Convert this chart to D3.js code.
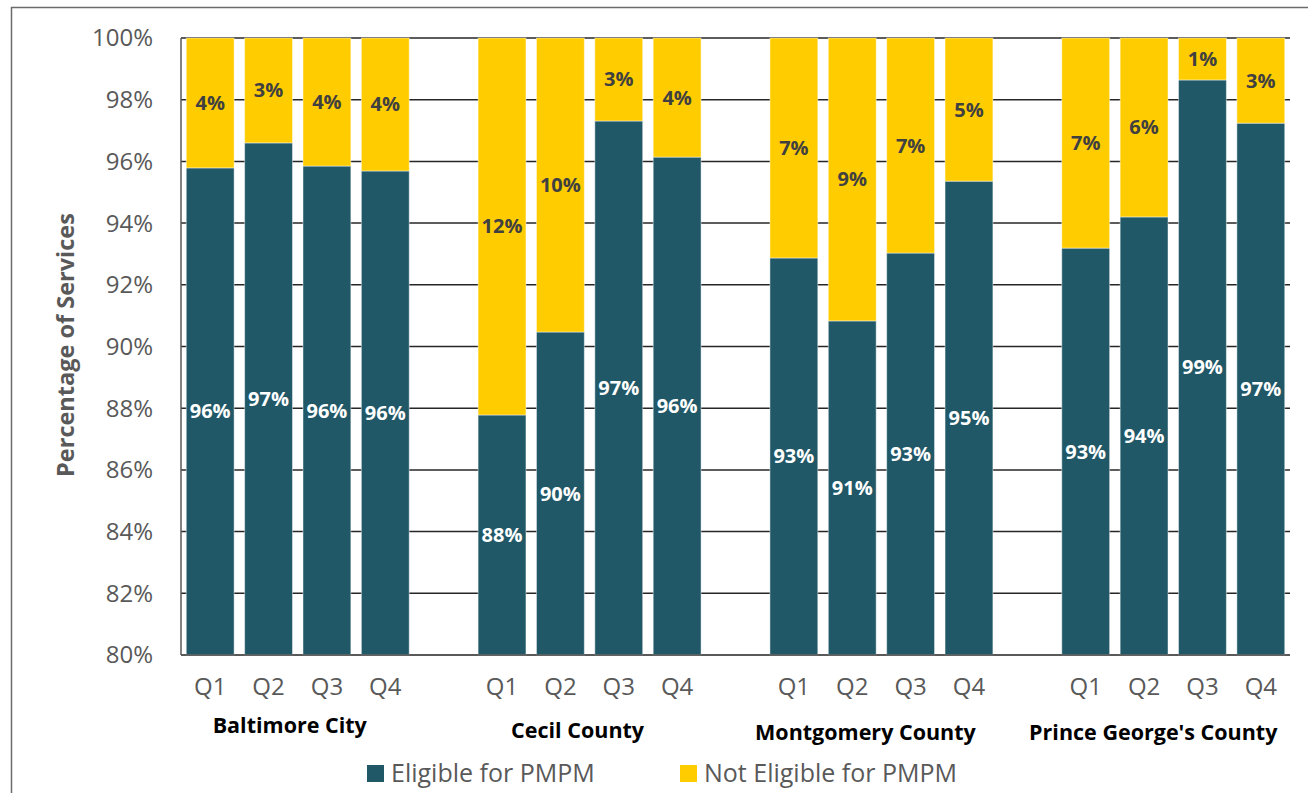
<!DOCTYPE html>
<html>
<head>
<meta charset="utf-8">
<script src="https://cdn.jsdelivr.net/npm/d3@7.9.0/dist/d3.min.js"></script>
<style>
  body { margin: 0; background: #fff; }
  svg { display: block; font-family: 'Open Sans', sans-serif; }
</style>
</head>
<body>
<svg width="1308" height="793"></svg>
<script>
// values
const counties = ['Baltimore City', 'Cecil County', 'Montgomery County', "Prince George's County"];
const quarters = ['Q1', 'Q2', 'Q3', 'Q4'];
const eligible = [
  [95.79, 96.6, 95.85, 95.69],
  [87.78, 90.47, 97.31, 96.14],
  [92.87, 90.83, 93.03, 95.36],
  [93.19, 94.2, 98.64, 97.24],
];
const notEligible = [
  [4.21, 3.4, 4.15, 4.31],
  [12.22, 9.53, 2.69, 3.86],
  [7.13, 9.17, 6.97, 4.64],
  [6.81, 5.8, 1.36, 2.76],
];
const yTicks = [80, 82, 84, 86, 88, 90, 92, 94, 96, 98, 100];
const seriesNames = ['Eligible for PMPM', 'Not Eligible for PMPM'];
const colors = ['#215868', '#ffcc00'];

let svg = d3.select('svg');

// outer chart frame
svg.append('rect')
  .attr('x', 11.5).attr('y', 7.5)
  .attr('width', 1400).attr('height', 900)
  .attr('fill', 'none')
  .attr('stroke', '#6b6b6b')
  .attr('stroke-width', 1.5);

// one slot per quarter, plus a blank slot between counties
let keys = [];
counties.forEach((c, ci) => {
  quarters.forEach(q => keys.push(c + '|' + q));
  if (ci < counties.length - 1) keys.push('gap' + ci);
});

let x = d3.scaleBand().domain(keys).range([181, 1290]).paddingInner(0.18).paddingOuter(0.09);
let y = d3.scaleLinear().domain([80, 100]).range([655, 38]);

// gridlines
svg.append('g')
  .selectAll('line')
  .data(yTicks)
  .join('line')
  .attr('x1', 181).attr('x2', 1290)
  .attr('y1', d => y(d)).attr('y2', d => y(d))
  .attr('stroke', '#262626')
  .attr('stroke-width', 1.5);

// y tick labels
svg.append('g')
  .selectAll('text')
  .data(yTicks)
  .join('text')
  .attr('x', 153)
  .attr('y', d => y(d))
  .attr('dy', '0.35em')
  .attr('text-anchor', 'end')
  .attr('font-size', 24)
  .attr('fill', '#595959')
  .text(d => d + '%');

svg.append('text')
  .attr('transform', 'translate(66,345) rotate(-90)')
  .attr('text-anchor', 'middle')
  .attr('dy', '0.35em')
  .attr('font-size', 23.5)
  .attr('font-weight', 'bold')
  .attr('fill', '#595959')
  .text('Percentage of Services');

// flatten the data into rows
let rows = [];
counties.forEach((c, ci) => {
  quarters.forEach((q, qi) => {
    rows.push({ key: c + '|' + q, q: q, elig: eligible[ci][qi], not: notEligible[ci][qi] });
  });
});

let bars = svg.append('g');
rows.forEach(d => {
  let x0 = x(d.key);
  let yTop = y(Math.max(80, d.elig));
  // eligible segment (clipped at axis minimum)
  bars.append('rect')
    .attr('x', x0).attr('width', x.bandwidth())
    .attr('y', yTop).attr('height', y(80) - yTop)
    .attr('fill', colors[0])
    .attr('stroke', 'rgba(255,255,255,0.45)')
    .attr('stroke-width', 1);
  // not eligible segment stacked on top
  let yNot = y(Math.min(100, d.elig + d.not));
  bars.append('rect')
    .attr('x', x0).attr('width', x.bandwidth())
    .attr('y', yNot).attr('height', yTop - yNot)
    .attr('fill', colors[1])
    .attr('stroke', 'rgba(255,255,255,0.45)')
    .attr('stroke-width', 1);

  let cx = x0 + x.bandwidth() / 2;
  bars.append('text')
    .attr('x', cx).attr('y', (yTop + y(80)) / 2)
    .attr('dy', '0.35em')
    .attr('text-anchor', 'middle')
    .attr('font-size', 20).attr('font-weight', 'bold')
    .attr('fill', '#ffffff')
    .text(Math.round(d.elig) + '%');
  bars.append('text')
    .attr('x', cx).attr('y', (yNot + yTop) / 2)
    .attr('dy', '0.35em')
    .attr('text-anchor', 'middle')
    .attr('font-size', 20).attr('font-weight', 'bold')
    .attr('fill', '#404040')
    .text(Math.round(d.not) + '%');
});

// axis lines
svg.append('line')
  .attr('x1', 181).attr('x2', 181).attr('y1', y(100)).attr('y2', y(80))
  .attr('stroke', '#595959').attr('stroke-width', 1.5);
svg.append('line')
  .attr('x1', 181).attr('x2', 1290).attr('y1', y(80)).attr('y2', y(80))
  .attr('stroke', '#595959').attr('stroke-width', 1.5);

// quarter labels
let xAxis = svg.append('g')
  .attr('transform', `translate(0,${y(80)})`)
  .call(d3.axisBottom(x).tickSize(0).tickPadding(23)
    .tickFormat(k => k.startsWith('gap') ? '' : k.split('|')[1]));
xAxis.select('.domain').remove();
xAxis.selectAll('text')
  .attr('font-family', "'Open Sans', sans-serif")
  .attr('font-size', 24)
  .attr('fill', '#595959');

// county labels
svg.append('g')
  .selectAll('text')
  .data(counties)
  .join('text')
  .attr('x', (c, i) => (x(c + '|Q1') + x(c + '|Q4') + x.bandwidth()) / 2 - 8 - i * 4)
  .attr('y', (c, i) => i === 0 ? 725 : (i === 1 ? 730 : 732))
  .attr('dy', '0.35em')
  .attr('text-anchor', 'middle')
  .attr('font-size', 21.5)
  .attr('font-weight', 'bold')
  .attr('fill', '#000')
  .text(c => c);

// legend
let legendX = [367, 680];
let legend = svg.append('g');
seriesNames.forEach((name, i) => {
  legend.append('rect')
    .attr('x', legendX[i]).attr('y', 765)
    .attr('width', 17).attr('height', 17)
    .attr('fill', colors[i]);
  legend.append('text')
    .attr('x', legendX[i] + 24).attr('y', 773)
    .attr('dy', '0.35em')
    .attr('font-size', 25)
    .attr('fill', '#595959')
    .text(name);
});
</script>
</body>
</html>
